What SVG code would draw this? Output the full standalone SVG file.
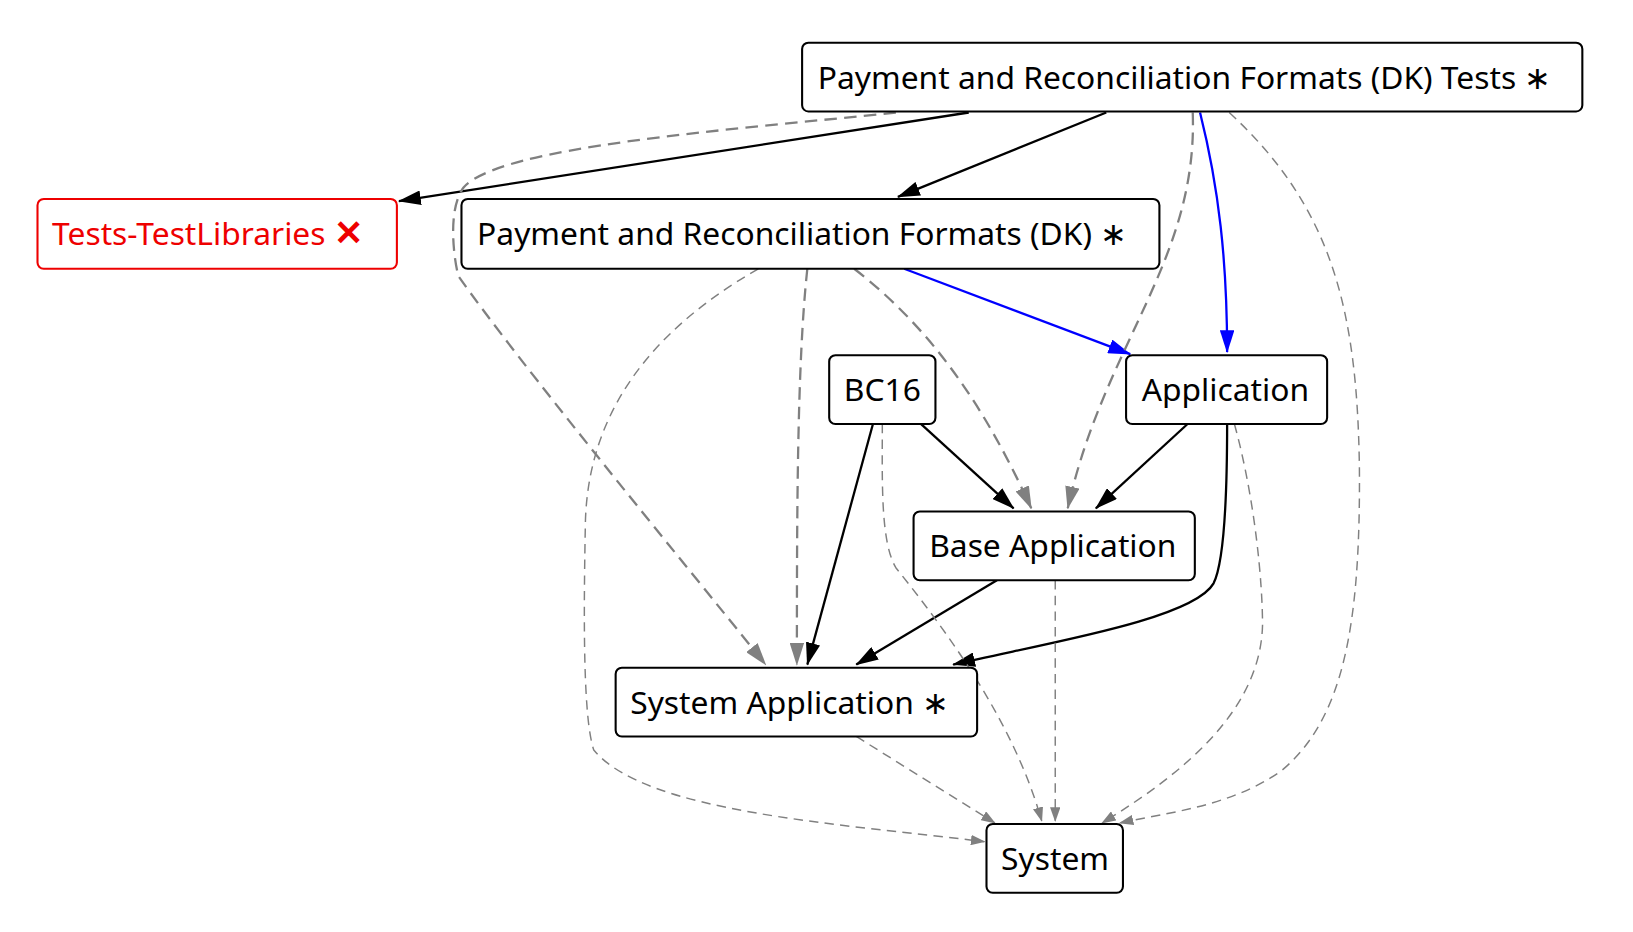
<svg xmlns="http://www.w3.org/2000/svg" width="1633" height="932" viewBox="0 0 1633 932">
<style>
.n rect{fill:#fff;stroke:#000;stroke-width:2}
.n text{font-family:"Noto Sans","Open Sans",sans-serif;font-size:30.5px;fill:#000}
.e path{fill:none}
.k{stroke:#000;stroke-width:2.2}
.b{stroke:#00f;stroke-width:2.2}
.g{stroke:#808080;stroke-width:2.2;stroke-dasharray:12,7}
.t{stroke:#808080;stroke-width:1.4;stroke-dasharray:9,6}
</style>
<defs>
<marker id="ak" markerWidth="22" markerHeight="14" refX="21" refY="7" orient="auto" markerUnits="userSpaceOnUse" viewBox="0 0 22 14"><path d="M0,0L22,7L0,14z" fill="#000"/></marker>
<marker id="ab" markerWidth="22" markerHeight="14" refX="21" refY="7" orient="auto" markerUnits="userSpaceOnUse" viewBox="0 0 22 14"><path d="M0,0L22,7L0,14z" fill="#00f"/></marker>
<marker id="ag" markerWidth="22" markerHeight="14" refX="21" refY="7" orient="auto" markerUnits="userSpaceOnUse" viewBox="0 0 22 14"><path d="M0,0L22,7L0,14z" fill="#808080"/></marker>
<marker id="at" markerWidth="14" markerHeight="10" refX="13" refY="5" orient="auto" markerUnits="userSpaceOnUse" viewBox="0 0 14 10"><path d="M0,0L14,5L0,10z" fill="#808080"/></marker>
</defs>
<g transform="scale(1.0417)">
<g id="edges" class="e">
<path class="k" d="M930,108L383,193" marker-end="url(#ak)"/>
<path class="k" d="M1062,108L862,189" marker-end="url(#ak)"/>
<path class="b" d="M868,258L1085,340" marker-end="url(#ab)"/>
<path class="b" d="M1152,108C1170,180 1178,250 1178,338" marker-end="url(#ab)"/>
<path class="k" d="M884,407L973,488" marker-end="url(#ak)"/>
<path class="k" d="M1140,407L1052,488" marker-end="url(#ak)"/>
<path class="k" d="M838,407L775,638" marker-end="url(#ak)"/>
<path class="k" d="M957,557L822,638" marker-end="url(#ak)"/>
<path class="k" d="M1178,407C1178,480 1175,540 1165,560C1145,595 1000,618 915,638" marker-end="url(#ak)"/>
<path class="g" d="M860,108C700,125 480,140 445,180C430,200 435,245 440,265C500,350 640,520 735,638" marker-end="url(#ag)"/>
<path class="g" d="M775,258C765,350 765,500 765,638" marker-end="url(#ag)"/>
<path class="g" d="M820,258C900,320 950,400 990,488" marker-end="url(#ag)"/>
<path class="g" d="M1145,108C1150,250 1060,330 1025,488" marker-end="url(#ag)"/>
<path class="t" d="M728,258C620,320 565,400 562,500C560,600 560,690 570,720C620,780 800,790 945,808" marker-end="url(#at)"/>
<path class="t" d="M847,407C847,460 845,520 860,545C920,620 975,700 1000,788" marker-end="url(#at)"/>
<path class="t" d="M822,707L955,790" marker-end="url(#at)"/>
<path class="t" d="M1013,557L1013,788" marker-end="url(#at)"/>
<path class="t" d="M1185,407C1205,480 1212,560 1212,600C1210,680 1140,740 1058,790" marker-end="url(#at)"/>
<path class="t" d="M1180,108C1280,200 1303,300 1305,450C1306,600 1290,690 1230,740C1180,775 1120,780 1075,790" marker-end="url(#at)"/>
</g>
<g id="n-tests" class="n"><rect x="770" y="41" width="749" height="66" rx="6"/><text x="785" y="85">Payment and Reconciliation Formats (DK) Tests  ∗</text></g>
<g id="n-testlib" class="n"><rect x="36" y="191" width="345" height="67" rx="6" style="stroke:#e00"/><text x="50" y="235" style="fill:#e00">Tests-TestLibraries  <tspan font-weight="bold" font-size="34">✕</tspan></text></g>
<g id="n-prf" class="n"><rect x="443" y="191" width="670" height="67" rx="6"/><text x="458" y="235">Payment and Reconciliation Formats (DK)  ∗</text></g>
<g id="n-bc16" class="n"><rect x="796" y="341" width="102" height="66" rx="6"/><text x="810" y="385">BC16</text></g>
<g id="n-app" class="n"><rect x="1081" y="341" width="193" height="66" rx="6"/><text x="1096" y="385">Application</text></g>
<g id="n-base" class="n"><rect x="877" y="491" width="270" height="66" rx="6"/><text x="892" y="535">Base Application</text></g>
<g id="n-sysapp" class="n"><rect x="591" y="641" width="347" height="66" rx="6"/><text x="605" y="685">System Application  ∗</text></g>
<g id="n-system" class="n"><rect x="947" y="791" width="131" height="66" rx="6"/><text x="961" y="835">System</text></g>
</g>
</svg>
